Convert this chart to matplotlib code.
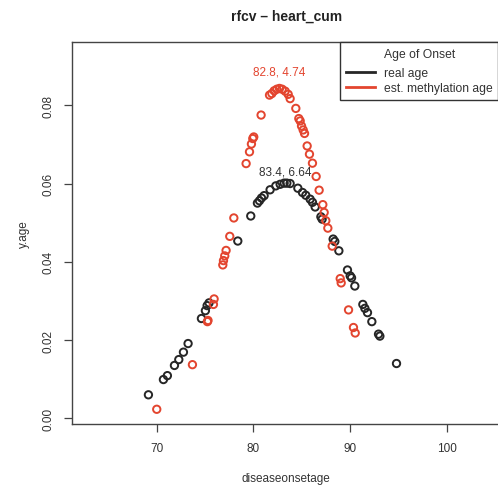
import matplotlib
matplotlib.use('Agg')
import matplotlib.pyplot as plt
from matplotlib.lines import Line2D

plt.rcParams['font.family'] = ['Liberation Sans', 'DejaVu Sans']

# real age curve
real_x = [69.14, 70.69, 71.10, 71.83, 72.28, 72.76, 73.24, 74.62, 75.03, 75.21, 75.41,
          78.38, 79.72, 80.41, 80.62, 80.83, 81.10, 81.72, 82.31, 82.76, 83.17, 83.45,
          83.79, 84.59, 85.07, 85.41, 85.86, 86.10, 86.38, 86.97, 87.10, 88.24, 88.41,
          88.83, 89.72, 90.00, 90.14, 90.48, 91.31, 91.52, 91.79, 92.24, 92.93, 93.07, 94.79]
real_y = [0.0060, 0.0099, 0.0109, 0.0135, 0.0150, 0.0169, 0.0191, 0.0255, 0.0275, 0.0288, 0.0295,
          0.0453, 0.0517, 0.0550, 0.0556, 0.0563, 0.0569, 0.0584, 0.0594, 0.0598, 0.0601, 0.0601,
          0.0600, 0.0588, 0.0577, 0.0570, 0.0560, 0.0552, 0.0540, 0.0515, 0.0509, 0.0458, 0.0452,
          0.0428, 0.0379, 0.0364, 0.0359, 0.0338, 0.0291, 0.0281, 0.0270, 0.0247, 0.0215, 0.0210, 0.0140]

# est. methylation age curve
est_x = [70.00, 73.69, 75.24, 75.30, 75.86, 75.93, 76.83, 76.90, 77.03, 77.17, 77.55, 77.97,
         79.24, 79.59, 79.79, 79.93, 80.03, 80.79, 81.66, 81.90, 82.14, 82.41, 82.69, 82.97,
         83.28, 83.59, 83.79, 84.38, 84.69, 84.83, 84.97, 85.14, 85.28, 85.55, 85.79, 86.10,
         86.48, 86.79, 87.17, 87.31, 87.48, 87.69, 88.14, 88.97, 89.07, 89.83, 90.34, 90.52]
est_y = [0.0023, 0.0137, 0.0247, 0.0250, 0.0291, 0.0305, 0.0392, 0.0403, 0.0415, 0.0429, 0.0465, 0.0512,
         0.0651, 0.0681, 0.0701, 0.0715, 0.0719, 0.0775, 0.0826, 0.0830, 0.0837, 0.0841, 0.0843, 0.0841,
         0.0836, 0.0828, 0.0817, 0.0792, 0.0766, 0.0760, 0.0747, 0.0737, 0.0728, 0.0696, 0.0675, 0.0652,
         0.0618, 0.0583, 0.0546, 0.0526, 0.0505, 0.0486, 0.0440, 0.0357, 0.0346, 0.0277, 0.0232, 0.0218]

# peak annotations
real_peak = (83.28, 0.0632, '83.4, 6.64')
est_peak = (82.66, 0.0886, '82.8, 4.74')

black = '#262626'
red = '#e3452f'

fig = plt.figure(figsize=(4.98, 4.89), dpi=100)
ax = fig.add_axes([0.1452, 0.1309, 0.859, 0.7806])

ax.scatter(real_x, real_y, s=28, facecolors='none', edgecolors=black, linewidths=1.4, zorder=3)
ax.scatter(est_x, est_y, s=28, facecolors='none', edgecolors=red, linewidths=1.4, zorder=3)

ax.text(real_peak[0], real_peak[1], real_peak[2], color='#333333', fontsize=8.5,
        ha='center', va='center')
ax.text(est_peak[0], est_peak[1], est_peak[2], color=red, fontsize=8.5,
        ha='center', va='center')

ax.set_xlim(61.27, 105.5)
ax.set_ylim(-0.00146, 0.0961)
ax.set_xticks([70, 80, 90, 100])
ax.set_yticks([0.00, 0.02, 0.04, 0.06, 0.08])
ax.set_yticklabels(['0.00', '0.02', '0.04', '0.06', '0.08'], rotation=90, va='center')
ax.tick_params(direction='out', length=6, width=0.9, colors='#444444',
               labelsize=8.5, labelcolor='#333333', pad=7)
for sp in ax.spines.values():
    sp.set_color('#444444')
    sp.set_linewidth(1.0)

ax.set_xlabel('diseaseonsetage', fontsize=8.5, color='#333333', labelpad=13)
ax.set_ylabel('y.age', fontsize=8.5, color='#333333', labelpad=9)
ax.set_title('rfcv \u2013 heart_cum', fontsize=10, fontweight='bold', color='#222222', pad=16)

handles = [Line2D([0], [0], color=black, lw=2),
           Line2D([0], [0], color=red, lw=2)]
leg = ax.legend(handles, ['real age', 'est. methylation age'], title='Age of Onset',
                loc='upper left', bbox_to_anchor=(0.626, 1.0), borderaxespad=0,
                fontsize=8.7, title_fontsize=8.7, handlelength=2.4, handletextpad=0.8,
                borderpad=0.45, labelspacing=0.26, fancybox=False, framealpha=1)
leg._legend_box.sep = 5.5  # a bit more room under the legend title
leg.get_frame().set_edgecolor('#333333')
leg.get_frame().set_linewidth(1.0)
for t in leg.get_texts():
    t.set_color('#333333')
leg.get_title().set_color('#333333')

fig.savefig('out.png', dpi=100)
